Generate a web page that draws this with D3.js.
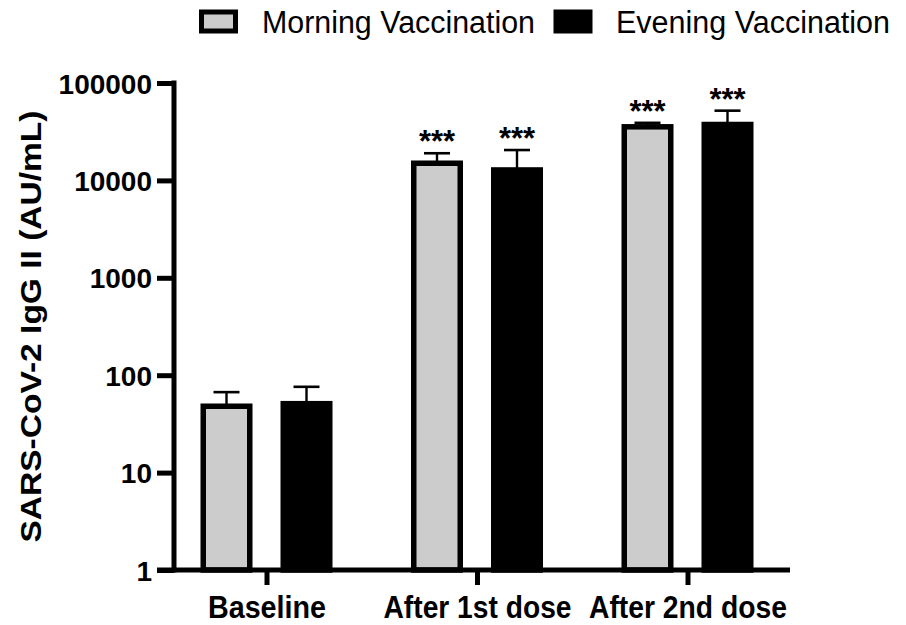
<!DOCTYPE html>
<html>
<head>
<meta charset="utf-8">
<script src="https://cdn.jsdelivr.net/npm/d3@7"></script>
<style>
  html, body { margin: 0; padding: 0; background: #fff; }
  svg { display: block; }
  text { font-family: "Liberation Sans", Arial, Helvetica, sans-serif; fill: #000; }
</style>
</head>
<body>
<svg id="chart" width="906" height="625"></svg>
<script>
// Time points and treatment groups
const categories = ["Baseline", "After 1st dose", "After 2nd dose"];
const groups = ["Morning Vaccination", "Evening Vaccination"];

// Geometric mean titres (AU/mL) and upper error limits per group
const morningValues = [48, 15000, 35500];
const eveningValues = [51, 12800, 37500];
const morningUpper = [67, 19000, 39000];
const eveningUpper = [76, 20500, 52000];

// Significance marks vs baseline
const morningSig = ["", "***", "***"];
const eveningSig = ["", "***", "***"];

const yTicks = [1, 10, 100, 1000, 10000, 100000];
const yTitle = "SARS-CoV-2 IgG II (AU/mL)";

const svg = d3.select("#chart");

const axisX = 174;          // y axis line position
const axisY = 570;          // x axis line position
const topY = 83;            // y position of the 100000 tick
const lineW = 5;

const y = d3.scaleLog().domain([1, 100000]).range([axisY, topY]);
const x = d3.scalePoint().domain(categories).range([266.5, 687.5]);
const sub = d3.scalePoint().domain(groups).range([-40, 40]);

const barOuter = 52;
const barStroke = 5.5;
const fills = { "Morning Vaccination": "#cccccc", "Evening Vaccination": "#000000" };

const series = [
  { name: groups[0], values: morningValues, upper: morningUpper, sig: morningSig },
  { name: groups[1], values: eveningValues, upper: eveningUpper, sig: eveningSig }
];

// Bars with upper error bars and significance stars
series.forEach(s => {
  const g = svg.append("g");
  categories.forEach((c, i) => {
    const cx = x(c) + sub(s.name);
    const w = barOuter - barStroke;
    const top = y(s.values[i]);
    const et = y(s.upper[i]);
    g.append("line")
      .attr("x1", cx).attr("x2", cx)
      .attr("y1", top).attr("y2", et)
      .attr("stroke", "#000").attr("stroke-width", 2.4);
    g.append("line")
      .attr("x1", cx - 13).attr("x2", cx + 13)
      .attr("y1", et).attr("y2", et)
      .attr("stroke", "#000").attr("stroke-width", 2.6);
    g.append("rect")
      .attr("x", cx - w / 2)
      .attr("y", top)
      .attr("width", w)
      .attr("height", axisY - top)
      .attr("fill", fills[s.name])
      .attr("stroke", "#000")
      .attr("stroke-width", barStroke);
    if (s.sig[i]) {
      g.append("text")
        .attr("x", cx)
        .attr("y", et - 1)
        .attr("text-anchor", "middle")
        .attr("font-size", 31)
        .attr("font-weight", "bold")
        .text(s.sig[i]);
    }
  });
});

// Y axis
const yAxis = d3.axisLeft(y)
  .tickValues(yTicks)
  .tickFormat(d3.format("d"))
  .tickSize(17)
  .tickPadding(5);
const yg = svg.append("g").attr("transform", `translate(${axisX},0)`).call(yAxis);
yg.select(".domain").remove();
yg.selectAll(".tick line").attr("stroke", "#000").attr("stroke-width", lineW);
yg.selectAll(".tick text")
  .attr("font-size", 28)
  .attr("font-weight", "bold")
  .attr("fill", "#000")
  .attr("dy", "0.36em")
  .style("font-family", "'Liberation Sans', Arial, sans-serif");
svg.append("line")
  .attr("x1", axisX).attr("x2", axisX)
  .attr("y1", topY - lineW / 2).attr("y2", axisY + lineW / 2)
  .attr("stroke", "#000").attr("stroke-width", lineW);

// X axis
svg.append("line")
  .attr("x1", 157).attr("x2", 790)
  .attr("y1", axisY).attr("y2", axisY)
  .attr("stroke", "#000").attr("stroke-width", lineW);
const labelWidths = { "Baseline": 118, "After 1st dose": 188, "After 2nd dose": 198 };
const xAxis = d3.axisBottom(x).tickSize(15).tickPadding(11);
const xg = svg.append("g").attr("transform", `translate(0,${axisY})`).call(xAxis);
xg.select(".domain").remove();
xg.selectAll(".tick line").attr("stroke", "#000").attr("stroke-width", lineW);
xg.selectAll(".tick text")
  .attr("font-size", 31)
  .attr("font-weight", "bold")
  .attr("fill", "#000")
  .attr("dy", "0.71em")
  .style("font-family", "'Liberation Sans', Arial, sans-serif")
  .each(function (d) {
    d3.select(this).attr("textLength", labelWidths[d]).attr("lengthAdjust", "spacingAndGlyphs");
  });

// Y axis title
svg.append("text")
  .attr("transform", `translate(41,${(topY + axisY) / 2}) rotate(-90)`)
  .attr("text-anchor", "middle")
  .attr("font-size", 30)
  .attr("font-weight", "bold")
  .attr("textLength", 432)
  .attr("lengthAdjust", "spacingAndGlyphs")
  .text(yTitle);

// Legend
const legend = svg.append("g");
const legendItems = [
  { name: groups[0], sx: 201.5, tx: 262, tw: 273 },
  { name: groups[1], sx: 556, tx: 616, tw: 274 }
];
legendItems.forEach(it => {
  legend.append("rect")
    .attr("x", it.sx).attr("y", 12)
    .attr("width", 34).attr("height", 19)
    .attr("fill", fills[it.name])
    .attr("stroke", "#000").attr("stroke-width", 5);
  legend.append("text")
    .attr("x", it.tx).attr("y", 33)
    .attr("font-size", 31)
    .attr("textLength", it.tw)
    .attr("lengthAdjust", "spacingAndGlyphs")
    .text(it.name);
});
</script>
</body>
</html>
